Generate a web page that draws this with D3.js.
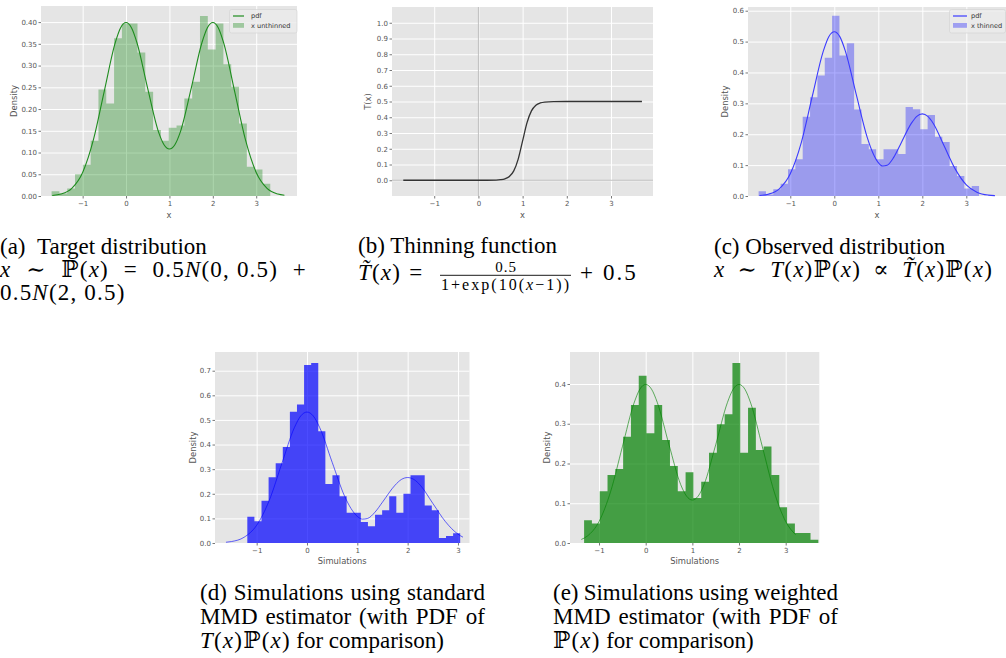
<!DOCTYPE html>
<html>
<head>
<meta charset="utf-8">
<script src="https://cdn.jsdelivr.net/npm/d3@7"></script>
<style>
  body { margin: 0; background: #fff; }
  svg { display: block; }
</style>
</head>
<body>
<svg id="fig" width="1006" height="658"></svg>
<script>
// ---- data ----

// (a) target distribution: histogram of unthinned samples + pdf
const aBinStart = -1.716, aBinWidth = 0.18;
const aHeights = [0.011, 0.006, 0.017, 0.050, 0.072, 0.127, 0.245, 0.213, 0.363, 0.397,
                  0.397, 0.330, 0.240, 0.152, 0.127, 0.157, 0.162, 0.224, 0.263, 0.414,
                  0.337, 0.397, 0.303, 0.251, 0.167, 0.067, 0.061, 0.028];
const aPdfX = [-1.7, -1.5, -1.25, -1, -0.75, -0.5, -0.25, -0.125, 0, 0.125, 0.25, 0.5, 0.75, 0.875, 1,
               1.125, 1.25, 1.5, 1.75, 1.875, 2, 2.125, 2.25, 2.5, 2.75, 3, 3.25, 3.5, 3.65];
const aPdfY = [0.0012, 0.0044, 0.0175, 0.054, 0.130, 0.242, 0.352, 0.387, 0.399, 0.387, 0.353, 0.247, 0.147, 0.118, 0.108,
               0.118, 0.147, 0.247, 0.353, 0.387, 0.399, 0.387, 0.352, 0.242, 0.130, 0.054, 0.0175, 0.0044, 0.0018];
const aXTicks = [-1, 0, 1, 2, 3];
const aYTicks = [0, 0.05, 0.10, 0.15, 0.20, 0.25, 0.30, 0.35, 0.40];

// (b) thinning function
const bX = [-1.7, 0, 0.4, 0.5, 0.6, 0.7, 0.8, 0.9, 1.0, 1.1, 1.2, 1.3, 1.4, 1.5, 1.7, 2, 3.7];
const bY = [0, 0, 0.0012, 0.0033, 0.009, 0.0237, 0.0596, 0.1345, 0.25, 0.3655, 0.4404, 0.4763, 0.491, 0.4966, 0.4995, 0.5, 0.5];
const bXTicks = [-1, 0, 1, 2, 3];
const bYTicks = [0, 0.1, 0.2, 0.3, 0.4, 0.5, 0.6, 0.7, 0.8, 0.9, 1.0];

// (c) observed distribution: histogram of thinned samples + pdf
const cBinStart = -1.72, cBinWidth = 0.167;
const cHeights = [0.015, 0.005, 0.022, 0.040, 0.087, 0.119, 0.257, 0.320, 0.390, 0.448,
                  0.584, 0.455, 0.495, 0.280, 0.168, 0.151, 0.119, 0.151, 0.151, 0.136,
                  0.288, 0.281, 0.216, 0.262, 0.192, 0.175, 0.097, 0.065, 0.024, 0.032];
const cPdfX = [-1.7, -1.5, -1.25, -1, -0.75, -0.5, -0.25, -0.125, 0, 0.125, 0.25, 0.5, 0.75, 0.875, 1,
               1.1, 1.2, 1.35, 1.5, 1.75, 1.875, 2, 2.125, 2.25, 2.5, 2.75, 3, 3.25, 3.5, 3.65];
const cPdfY = [0.0016, 0.0059, 0.0233, 0.072, 0.173, 0.323, 0.469, 0.516, 0.532, 0.516, 0.470, 0.328, 0.189, 0.140, 0.108,
               0.097, 0.0995, 0.125, 0.166, 0.235, 0.258, 0.266, 0.258, 0.235, 0.161, 0.087, 0.036, 0.0117, 0.0029, 0.0012];
const cXTicks = [-1, 0, 1, 2, 3];
const cYTicks = [0, 0.1, 0.2, 0.3, 0.4, 0.5, 0.6];

// (d) simulations, standard MMD
const dBinStart = -1.186, dBinWidth = 0.141;
const dHeights = [0.107, 0.088, 0.172, 0.267, 0.324, 0.390, 0.533, 0.563, 0.723, 0.731,
                  0.454, 0.240, 0.275, 0.190, 0.123, 0.123, 0.085, 0.068, 0.115, 0.133,
                  0.190, 0.123, 0.200, 0.275, 0.275, 0.152, 0.133, 0.020, 0.028, 0.040];
const dPdfX = [-1.61, -1.5, -1.25, -1, -0.75, -0.5, -0.25, -0.125, 0, 0.125, 0.25, 0.5, 0.75, 0.875, 1,
               1.1, 1.2, 1.35, 1.5, 1.75, 1.875, 2, 2.125, 2.25, 2.5, 2.75, 3, 3.1];
const dPdfY = [0.003, 0.0059, 0.0233, 0.072, 0.173, 0.323, 0.469, 0.516, 0.532, 0.516, 0.470, 0.328, 0.189, 0.140, 0.108,
               0.097, 0.0995, 0.125, 0.166, 0.235, 0.258, 0.266, 0.258, 0.235, 0.161, 0.087, 0.036, 0.0236];
const dXTicks = [-1, 0, 1, 2, 3];
const dYTicks = [0, 0.1, 0.2, 0.3, 0.4, 0.5, 0.6, 0.7];

// (e) simulations, weighted MMD
const eBinStart = -1.32, eBinWidth = 0.1673;
const eHeights = [0.057, 0.049, 0.130, 0.171, 0.186, 0.267, 0.347, 0.421, 0.276, 0.347,
                  0.259, 0.194, 0.130, 0.178, 0.113, 0.154, 0.227, 0.299, 0.324, 0.453,
                  0.227, 0.340, 0.234, 0.243, 0.171, 0.090, 0.049, 0.025, 0.025, 0.008];
const ePdfX = [-1.38, -1.25, -1, -0.75, -0.5, -0.25, -0.125, 0, 0.125, 0.25, 0.5, 0.75, 0.875, 1,
               1.125, 1.25, 1.5, 1.75, 1.875, 2, 2.125, 2.25, 2.5, 2.75, 3, 3.21];
const ePdfY = [0.0089, 0.0175, 0.054, 0.130, 0.242, 0.352, 0.387, 0.399, 0.387, 0.353, 0.247, 0.147, 0.118, 0.108,
               0.118, 0.147, 0.247, 0.353, 0.387, 0.399, 0.387, 0.352, 0.242, 0.130, 0.054, 0.021];
const eXTicks = [-1, 0, 1, 2, 3];
const eYTicks = [0, 0.1, 0.2, 0.3, 0.4];

// ---- drawing ----
const svg = d3.select("#fig");
const sans = "'DejaVu Sans', sans-serif";
const serif = "'Liberation Serif', 'Times New Roman', 'DejaVu Serif', serif";
const fmtInt = d3.format("d");

function drawPanel(p) {
  const x = d3.scaleLinear().domain(p.xDomain).range([p.left, p.right]);
  const y = d3.scaleLinear().domain(p.yDomain).range([p.bottom, p.top]);
  const w = p.right - p.left, h = p.bottom - p.top;
  const g = svg.append("g");

  g.append("rect")
    .attr("x", p.left).attr("y", p.top)
    .attr("width", w).attr("height", h)
    .attr("fill", "#e5e5e5");

  // white grid
  g.append("g").attr("transform", `translate(0,${p.bottom})`)
    .call(d3.axisBottom(x).tickValues(p.xTicks).tickSize(-h).tickFormat(""))
    .call(s => s.select(".domain").remove())
    .selectAll("line").attr("stroke", "#fff").attr("stroke-width", 1);
  g.append("g").attr("transform", `translate(${p.left},0)`)
    .call(d3.axisLeft(y).tickValues(p.yTicks).tickSize(-w).tickFormat(""))
    .call(s => s.select(".domain").remove())
    .selectAll("line").attr("stroke", "#fff").attr("stroke-width", 1);

  // histogram as one stepped area
  if (p.heights) {
    const n = p.heights.length;
    const pts = p.heights.map((v, i) => [p.binStart + i * p.binWidth, v]);
    pts.push([p.binStart + n * p.binWidth, p.heights[n - 1]]);
    const area = d3.area()
      .x(d => x(d[0])).y0(y(0)).y1(d => y(d[1]))
      .curve(d3.curveStepAfter);
    g.append("path").attr("d", area(pts))
      .attr("fill", p.barColor).attr("fill-opacity", p.barOpacity);
  }

  if (p.refLines) {
    g.append("line").attr("x1", x(0)).attr("x2", x(0)).attr("y1", p.top).attr("y2", p.bottom)
      .attr("stroke", "#b0b0b0").attr("stroke-width", 0.8);
    g.append("line").attr("x1", p.left).attr("x2", p.right).attr("y1", y(0)).attr("y2", y(0))
      .attr("stroke", "#b0b0b0").attr("stroke-width", 0.8);
  }

  const line = d3.line().x(d => x(d[0])).y(d => y(d[1])).curve(d3.curveMonotoneX);
  g.append("path").attr("d", line(d3.zip(p.lineX, p.lineY)))
    .attr("fill", "none").attr("stroke", p.lineColor)
    .attr("stroke-opacity", p.lineOpacity || 1)
    .attr("stroke-width", p.lineWidth || 1.1);

  // tick marks and labels
  const xa = g.append("g").attr("transform", `translate(0,${p.bottom})`)
    .call(d3.axisBottom(x).tickValues(p.xTicks).tickSize(2.5).tickPadding(3).tickFormat(fmtInt));
  const ya = g.append("g").attr("transform", `translate(${p.left},0)`)
    .call(d3.axisLeft(y).tickValues(p.yTicks).tickSize(2.5).tickPadding(1.5).tickFormat(d3.format(p.yFormat)));
  [xa, ya].forEach(a => {
    a.attr("font-size", 7).attr("font-family", sans);
    a.select(".domain").remove();
    a.selectAll("line").attr("stroke", "#555").attr("stroke-width", 0.8);
    a.selectAll("text").attr("fill", "#555");
  });

  g.append("text")
    .attr("x", (p.left + p.right) / 2).attr("y", p.xLabelY)
    .attr("text-anchor", "middle")
    .attr("font-family", sans).attr("font-size", 8.4).attr("fill", "#555")
    .text(p.xLabel);
  g.append("text")
    .attr("transform", `translate(${p.yLabelX},${(p.top + p.bottom) / 2}) rotate(-90)`)
    .attr("text-anchor", "middle").attr("dominant-baseline", "central")
    .attr("font-family", sans).attr("font-size", 8.4).attr("fill", "#555")
    .text(p.yLabel);

  if (p.legend) {
    const L = p.legend;
    g.append("rect").attr("x", L.x).attr("y", L.y).attr("width", L.w).attr("height", 23.5)
      .attr("rx", 2).attr("fill", "#ebebeb").attr("fill-opacity", 0.85)
      .attr("stroke", "#d2d2d2").attr("stroke-width", 0.6);
    g.append("line").attr("x1", L.x + 3.5).attr("x2", L.x + 3.5 + L.handle)
      .attr("y1", L.y + 6.5).attr("y2", L.y + 6.5)
      .attr("stroke", p.lineColor).attr("stroke-opacity", p.lineOpacity || 1).attr("stroke-width", 1.2);
    g.append("rect").attr("x", L.x + 3.5).attr("y", L.y + 13.5).attr("width", L.handle).attr("height", 4.8)
      .attr("fill", p.barColor).attr("fill-opacity", p.barOpacity);
    L.labels.forEach((t, i) => {
      g.append("text").attr("x", L.x + L.textDx).attr("y", L.y + 8.9 + i * 9.2)
        .attr("font-family", sans).attr("font-size", 6.6).attr("fill", "#333").text(t);
    });
  }
}

drawPanel({
  left: 41, right: 297, top: 6, bottom: 196,
  xDomain: [-1.96, 3.94], yDomain: [0, 0.437],
  xTicks: aXTicks, yTicks: aYTicks, yFormat: ".2f",
  binStart: aBinStart, binWidth: aBinWidth, heights: aHeights,
  barColor: "#008000", barOpacity: 0.32,
  lineX: aPdfX, lineY: aPdfY, lineColor: "#1e8c1e",
  xLabel: "x", xLabelY: 218, yLabel: "Density", yLabelX: 14,
  legend: { x: 229.5, y: 9.5, w: 67.5, handle: 11, textDx: 21.5, labels: ["pdf", "x unthinned"] }
});

drawPanel({
  left: 392, right: 653, top: 7, bottom: 196,
  xDomain: [-1.955, 3.95], yDomain: [-0.1, 1.1],
  xTicks: bXTicks, yTicks: bYTicks, yFormat: ".1f",
  refLines: true,
  lineX: bX, lineY: bY, lineColor: "#333", lineWidth: 1.3,
  xLabel: "x", xLabelY: 218, yLabel: "T(x)", yLabelX: 368
});

drawPanel({
  left: 748, right: 1006, top: 7, bottom: 196,
  xDomain: [-1.961, 3.902], yDomain: [0, 0.612],
  xTicks: cXTicks, yTicks: cYTicks, yFormat: ".1f",
  binStart: cBinStart, binWidth: cBinWidth, heights: cHeights,
  barColor: "#0000ff", barOpacity: 0.32,
  lineX: cPdfX, lineY: cPdfY, lineColor: "#3a3aff",
  xLabel: "x", xLabelY: 218, yLabel: "Density", yLabelX: 725,
  legend: { x: 949.5, y: 9.5, w: 56, handle: 14, textDx: 21.5, labels: ["pdf", "x thinned"] }
});

drawPanel({
  left: 215, right: 469.5, top: 352, bottom: 543,
  xDomain: [-1.828, 3.229], yDomain: [0, 0.776],
  xTicks: dXTicks, yTicks: dYTicks, yFormat: ".1f",
  binStart: dBinStart, binWidth: dBinWidth, heights: dHeights,
  barColor: "#0000ff", barOpacity: 0.7,
  lineX: dPdfX, lineY: dPdfY, lineColor: "#0000ff", lineOpacity: 0.6, lineWidth: 1,
  xLabel: "Simulations", xLabelY: 564, yLabel: "Density", yLabelX: 192.5
});

drawPanel({
  left: 570, right: 819.3, top: 352, bottom: 543,
  xDomain: [-1.622, 3.72], yDomain: [0, 0.4805],
  xTicks: eXTicks, yTicks: eYTicks, yFormat: ".1f",
  binStart: eBinStart, binWidth: eBinWidth, heights: eHeights,
  barColor: "#008000", barOpacity: 0.7,
  lineX: ePdfX, lineY: ePdfY, lineColor: "#008000", lineOpacity: 0.6, lineWidth: 1,
  xLabel: "Simulations", xLabelY: 564, yLabel: "Density", yLabelX: 547
});

// ---- captions ----
const capSize = 23;

// one text element made of [string, italic] pieces
function piece(x, y, segs, size, ls) {
  const t = svg.append("text").attr("x", x).attr("y", y)
    .attr("font-family", serif).attr("font-size", size || capSize)
    .attr("fill", "#000").style("white-space", "pre");
  if (ls) t.style("letter-spacing", ls + "px");
  segs.forEach(([s, it]) => t.append("tspan").text(s).attr("font-style", it ? "italic" : null));
  return t;
}

// plain text line, optionally justified to a width by widening the word spaces
function textLine(x, y, str, width) {
  const t = piece(x, y, [[str, 0]]);
  if (width) {
    const spaces = str.split(" ").length - 1;
    const nat = t.node().getComputedTextLength();
    t.style("word-spacing", ((width - nat) / spaces) + "px");
  }
  return t;
}

// math line: tokens laid out one after another, gaps fixed or stretched to a width
function mathLine(x0, y, tokens, opts = {}) {
  const els = tokens.map(segs => piece(x0, y, segs, opts.size, opts.ls === undefined ? 1.2 : opts.ls));
  const widths = els.map(e => e.node().getComputedTextLength());
  let gap = opts.gap || 6.5;
  if (opts.width) gap = (opts.width - d3.sum(widths)) / (tokens.length - 1);
  let cx = x0;
  els.forEach((e, i) => { e.attr("x", cx); cx += widths[i] + gap; });
  return cx - gap;
}

const Tt = "T\u0303";

// (a)
textLine(0, 254, "(a)\u2002Target distribution");
mathLine(0, 277, [
  [["x", 1]], [["\u223C", 0]], [["\u2119(", 0], ["x", 1], [")", 0]], [["=", 0]],
  [["0.5", 0], ["N", 1], ["(0, 0.5)", 0]], [["+", 0]]
], { width: 307 });
mathLine(0, 300, [[["0.5", 0], ["N", 1], ["(2, 0.5)", 0]]]);

// (b)
textLine(358, 253, "(b) Thinning function");
mathLine(358, 280, [[[Tt, 1], ["(", 0], ["x", 1], [")", 0]], [["=", 0]]], { gap: 8 });
const fx = 441, fw = 130;
const den = piece(fx, 289.5, [["1+exp(10(", 0], ["x", 1], ["\u22121))", 0]], 16);
const denChars = "1+exp(10(x\u22121))".length;
den.style("letter-spacing", ((fw - den.node().getComputedTextLength()) / denChars) + "px");
piece(fx + fw / 2, 271.5, [["0.5", 0]], 15, 1).attr("text-anchor", "middle");
svg.append("line").attr("x1", fx - 1).attr("x2", fx + fw).attr("y1", 275.3).attr("y2", 275.3)
  .attr("stroke", "#000").attr("stroke-width", 0.9);
mathLine(fx + fw + 9, 280, [[["+", 0]], [["0.5", 0]]], { gap: 8, ls: 2 });

// (c)
textLine(714, 254, "(c) Observed distribution");
mathLine(714, 277, [
  [["x", 1]], [["\u223C", 0]],
  [["T", 1], ["(", 0], ["x", 1], [")\u2119(", 0], ["x", 1], [")", 0]], [["\u221D", 0]],
  [[Tt, 1], ["(", 0], ["x", 1], [")\u2119(", 0], ["x", 1], [")", 0]]
], { width: 279 });

// (d)
textLine(200, 600, "(d) Simulations using standard", 285);
textLine(200, 624, "MMD estimator (with PDF of", 285);
const dEnd = mathLine(200, 648, [[["T", 1], ["(", 0], ["x", 1], [")\u2119(", 0], ["x", 1], [")", 0]]]);
textLine(dEnd + 5.5, 648, "for comparison)");

// (e)
textLine(553, 600, "(e) Simulations using weighted", 285);
textLine(553, 624, "MMD estimator (with PDF of", 285);
const eEnd = mathLine(553, 648, [[["\u2119(", 0], ["x", 1], [")", 0]]]);
textLine(eEnd + 5.5, 648, "for comparison)");
</script>
</body>
</html>
